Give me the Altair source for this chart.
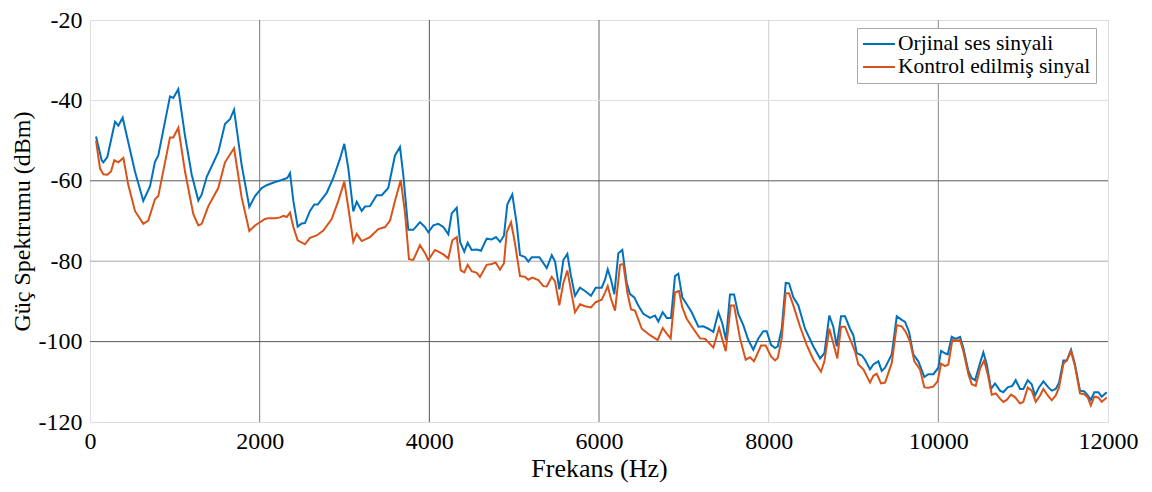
import altair as alt
import pandas as pd

# ---- data ----
freq_orig = [71, 138, 157, 204, 295, 334, 385, 451, 530, 628, 707, 766, 805, 943, 982, 1041, 1120, 1199, 1277, 1317,
             1376, 1512, 1591, 1650, 1698, 1788, 1878, 1945, 2024, 2083, 2181, 2260, 2326, 2358, 2397, 2448, 2496, 2534,
             2593, 2644, 2684, 2731, 2790, 2868, 2947, 2998, 3045, 3104, 3144, 3203, 3242, 3301, 3380, 3439, 3516, 3595,
             3654, 3693, 3752, 3811, 3890, 3949, 3988, 4047, 4106, 4165, 4224, 4264, 4323, 4362, 4412, 4452, 4499, 4559,
             4609, 4676, 4735, 4786, 4833, 4880, 4919, 4978, 5030, 5069, 5128, 5167, 5207, 5297, 5384, 5443, 5482, 5532,
             5580, 5627, 5667, 5717, 5776, 5835, 5906, 5961, 6032, 6071, 6103, 6142, 6181, 6228, 6275, 6327, 6366, 6416,
             6463, 6522, 6601, 6660, 6699, 6751, 6798, 6849, 6896, 6935, 6982, 7034, 7093, 7171, 7230, 7289, 7348, 7407,
             7454, 7497, 7544, 7592, 7642, 7701, 7760, 7819, 7878, 7937, 7977, 8028, 8075, 8107, 8154, 8201, 8240, 8291,
             8350, 8429, 8527, 8606, 8657, 8715, 8762, 8802, 8853, 8900, 8959, 8998, 9038, 9097, 9136, 9195, 9234, 9293,
             9333, 9372, 9451, 9510, 9569, 9608, 9655, 9705, 9764, 9835, 9882, 9941, 10000, 10032, 10079, 10111, 10158,
             10205, 10256, 10295, 10354, 10394, 10433, 10492, 10531, 10571, 10621, 10668, 10727, 10766, 10818, 10872,
             10912, 10963, 11002, 11054, 11101, 11140, 11187, 11238, 11297, 11337, 11384, 11423, 11474, 11514, 11564,
             11611, 11670, 11721, 11761, 11797, 11839, 11886, 11926, 11985]
db_orig = [-49.0, -54.9, -55.4, -54.1, -45.3, -46.3, -44.3, -50.4, -57.7, -65.0, -61.4, -55.3, -53.7, -39.0, -39.4,
           -37.2, -48.8, -58.5, -64.9, -63.4, -59.0, -52.9, -45.9, -44.7, -42.3, -56.1, -66.5, -63.8, -61.8, -61.1,
           -60.3, -59.8, -59.3, -58.1, -65.0, -71.4, -70.6, -70.5, -67.5, -65.9, -65.9, -64.6, -63.0, -59.3, -54.5,
           -50.8, -56.9, -67.6, -65.2, -67.5, -66.4, -66.3, -63.6, -63.6, -61.8, -53.7, -51.6, -58.5, -72.2, -72.2,
           -70.3, -71.5, -72.8, -71.1, -70.7, -71.5, -73.3, -68.1, -66.7, -75.2, -77.6, -75.4, -77.2, -77.1, -77.4,
           -74.4, -74.6, -74.0, -75.2, -73.6, -65.9, -63.4, -70.7, -78.5, -79.0, -80.1, -79.0, -79.0, -81.7, -78.5,
           -80.1, -87.0, -79.7, -78.2, -83.3, -88.6, -86.6, -87.4, -88.6, -86.6, -86.6, -84.6, -82.0, -84.6, -88.2,
           -78.0, -77.2, -85.4, -88.2, -89.0, -91.0, -93.1, -94.1, -93.5, -95.0, -92.7, -94.1, -94.1, -83.7, -83.1,
           -89.0, -90.7, -92.7, -96.3, -96.2, -96.8, -97.6, -92.7, -95.5, -99.6, -88.3, -88.3, -93.1, -95.9, -99.6,
           -102.0, -99.2, -97.4, -97.4, -100.8, -101.6, -101.2, -96.8, -85.4, -85.5, -89.0, -91.0, -96.8, -101.2,
           -104.2, -102.9, -93.5, -96.3, -101.2, -93.7, -93.7, -96.8, -98.4, -102.9, -103.4, -104.5, -106.9, -105.7,
           -104.9, -107.3, -106.5, -103.2, -93.7, -94.6, -95.1, -97.6, -103.2, -104.9, -108.8, -108.1, -108.1, -106.5,
           -102.3, -102.9, -103.2, -98.8, -99.3, -98.8, -101.6, -107.3, -109.1, -109.6, -105.3, -102.7, -105.7,
           -111.8, -110.4, -112.2, -112.6, -111.4, -111.0, -109.6, -111.8, -111.8, -109.6, -110.6, -113.4, -111.4,
           -109.9, -111.4, -112.2, -111.8, -110.2, -104.7, -104.7, -102.0, -105.7, -112.2, -112.4, -113.4, -114.5,
           -112.6, -112.6, -113.7, -112.6]

freq_ctrl = [71, 118, 157, 204, 248, 286, 334, 393, 451, 530, 628, 687, 766, 805, 943, 982, 1041, 1120, 1218, 1277,
             1317, 1395, 1512, 1591, 1698, 1788, 1878, 1945, 2063, 2102, 2181, 2240, 2279, 2319, 2358, 2397, 2448, 2534,
             2593, 2672, 2750, 2849, 2927, 2998, 3045, 3104, 3144, 3203, 3301, 3399, 3478, 3537, 3595, 3663, 3713, 3760,
             3811, 3890, 3949, 3988, 4067, 4106, 4165, 4224, 4271, 4323, 4370, 4412, 4452, 4499, 4559, 4597, 4676, 4735,
             4782, 4833, 4880, 4912, 4963, 5010, 5069, 5128, 5167, 5214, 5285, 5344, 5384, 5443, 5482, 5532, 5580, 5627,
             5667, 5717, 5776, 5835, 5906, 5961, 6032, 6071, 6103, 6142, 6189, 6248, 6287, 6334, 6378, 6425, 6504, 6601,
             6692, 6751, 6798, 6845, 6896, 6943, 6982, 7034, 7112, 7191, 7250, 7348, 7415, 7494, 7553, 7592, 7662, 7729,
             7780, 7827, 7910, 7965, 8028, 8075, 8107, 8154, 8201, 8240, 8291, 8370, 8448, 8527, 8617, 8657, 8715, 8762,
             8809, 8853, 8900, 8971, 9018, 9057, 9116, 9195, 9234, 9274, 9324, 9372, 9451, 9510, 9569, 9616, 9666, 9717,
             9784, 9835, 9882, 9941, 9993, 10032, 10079, 10118, 10165, 10217, 10256, 10295, 10354, 10394, 10441, 10492,
             10539, 10582, 10630, 10677, 10727, 10766, 10806, 10857, 10904, 10963, 11002, 11054, 11101, 11148, 11199,
             11238, 11290, 11337, 11384, 11423, 11474, 11514, 11564, 11611, 11670, 11721, 11761, 11797, 11839, 11886,
             11926, 11985]
db_ctrl = [-50.0, -56.9, -58.4, -58.5, -57.7, -54.9, -55.4, -54.3, -61.0, -67.5, -70.7, -69.9, -64.6, -63.8, -49.2,
           -49.2, -46.8, -57.7, -68.3, -71.1, -70.7, -66.3, -61.8, -55.4, -51.9, -64.2, -72.5, -71.1, -69.5, -69.3,
           -69.3, -69.1, -68.7, -69.0, -67.9, -71.5, -74.8, -75.8, -74.2, -73.6, -72.4, -69.5, -65.0, -60.2, -66.7,
           -75.2, -73.2, -75.0, -74.0, -72.0, -71.5, -69.9, -65.0, -59.8, -67.9, -79.5, -79.7, -76.0, -78.0, -79.7,
           -77.2, -77.6, -78.3, -79.3, -74.8, -74.0, -82.3, -82.8, -80.9, -82.5, -82.9, -83.9, -80.9, -80.7, -80.3,
           -82.1, -80.5, -72.8, -70.3, -75.6, -83.7, -83.9, -84.6, -84.1, -84.7, -86.2, -86.3, -83.9, -85.0, -91.0,
           -85.4, -82.3, -87.0, -92.7, -90.7, -91.2, -91.5, -90.2, -89.6, -87.8, -86.2, -89.4, -92.3, -80.9, -80.7,
           -87.8, -92.0, -92.3, -96.8, -98.4, -99.6, -96.6, -98.0, -99.2, -87.8, -87.4, -91.5, -94.3, -96.8, -99.2,
           -99.3, -101.5, -96.6, -102.4, -91.0, -91.0, -99.2, -104.5, -103.9, -104.9, -101.0, -101.0, -103.7, -104.7,
           -104.1, -99.2, -88.0, -88.0, -91.0, -96.3, -100.8, -104.5, -107.5, -104.9, -96.8, -100.4, -104.2, -96.3,
           -96.3, -100.0, -102.4, -105.7, -106.9, -110.2, -108.5, -108.0, -110.4, -110.2, -105.3, -95.9, -96.2, -97.6,
           -100.0, -104.9, -106.9, -111.4, -111.5, -111.2, -109.8, -105.5, -106.1, -105.7, -99.6, -99.8, -99.6,
           -102.4, -108.1, -110.6, -111.0, -106.7, -104.7, -108.1, -113.2, -112.9, -114.2, -115.0, -114.5, -113.2,
           -113.8, -115.4, -115.0, -111.4, -112.2, -115.0, -113.4, -111.8, -113.4, -114.6, -113.4, -111.4, -105.5,
           -104.7, -102.4, -106.1, -112.9, -113.1, -113.9, -115.9, -113.7, -113.9, -115.0, -113.9]

series_names = ["Orjinal ses sinyali", "Kontrol edilmiş sinyal"]
series_colors = ["#0072BD", "#D95319"]

x_ticks = [0, 2000, 4000, 6000, 8000, 10000, 12000]
y_ticks = [-120, -100, -80, -60, -40, -20]

# grid lines (positions are the tick values; tones vary in the reference)
vgrid_vals = [2000, 4000, 6000, 8000, 10000]
vgrid_cols = ["#7a7a7a", "#555555", "#6a6a6a", "#cfcfcf", "#8a8a8a"]
hgrid_vals = [-40, -60, -80, -100]
hgrid_cols = ["#dedede", "#5a5a5a", "#aaaaaa", "#5a5a5a"]

FONT = "Liberation Serif"

df = pd.concat([
    pd.DataFrame({"freq": freq_orig, "db": db_orig, "series": series_names[0]}),
    pd.DataFrame({"freq": freq_ctrl, "db": db_ctrl, "series": series_names[1]}),
])
vg = pd.DataFrame({"v": vgrid_vals, "c": vgrid_cols})
hg = pd.DataFrame({"v": hgrid_vals, "c": hgrid_cols})

xscale = alt.Scale(domain=[0, 12000], nice=False, zero=False)
yscale = alt.Scale(domain=[-120, -20], nice=False, zero=False)

xaxis = alt.Axis(values=x_ticks, title="Frekans (Hz)", grid=False, ticks=False, domain=False,
                 labelFont=FONT, labelFontSize=24, labelColor="black", labelPadding=7, labelFlush=False,
                 labelExpr="'' + datum.value",
                 titleFont=FONT, titleFontSize=26, titleFontWeight="normal", titleColor="black", titlePadding=2)
yaxis = alt.Axis(values=y_ticks, title="Güç Spektrumu (dBm)", grid=False, ticks=False, domain=False,
                 labelFont=FONT, labelFontSize=24, labelColor="black", labelPadding=8, labelFlush=False,
                 labelExpr="'' + datum.value",
                 titleFont=FONT, titleFontSize=24, titleFontWeight="normal", titleColor="black", titlePadding=4)

vrules = alt.Chart(vg).mark_rule(strokeWidth=1).encode(
    x=alt.X("v:Q", scale=xscale, axis=xaxis),
    stroke=alt.Stroke("c:N", scale=None),
)
hrules = alt.Chart(hg).mark_rule(strokeWidth=1).encode(
    y=alt.Y("v:Q", scale=yscale, axis=yaxis),
    stroke=alt.Stroke("c:N", scale=None),
)

lines = alt.Chart(df).mark_line(strokeWidth=2).encode(
    x=alt.X("freq:Q", scale=xscale, axis=xaxis),
    y=alt.Y("db:Q", scale=yscale, axis=yaxis),
    color=alt.Color("series:N",
                    scale=alt.Scale(domain=series_names, range=series_colors),
                    sort=series_names,
                    legend=alt.Legend(title=None, orient="none", legendX=767, legendY=8,
                                      symbolType="M-1,0H2.2", symbolSize=400, symbolStrokeWidth=2,
                                      labelFont=FONT, labelFontSize=21.5, labelColor="black", labelOffset=14,
                                      labelLimit=400, rowPadding=1,
                                      fillColor="white", strokeColor="#aaaaaa", padding=5)),
)

chart = alt.layer(vrules, hrules, lines).properties(
    width=1018, height=402,
    autosize=alt.AutoSizeParams(type="none"),
    padding={"left": 82, "top": 12, "right": 36, "bottom": 66},
).configure_view(stroke="#8c8c8c", strokeWidth=1).configure(background="white", font=FONT)

chart.save("out.html", embed_options={"renderer": "svg", "actions": False})
